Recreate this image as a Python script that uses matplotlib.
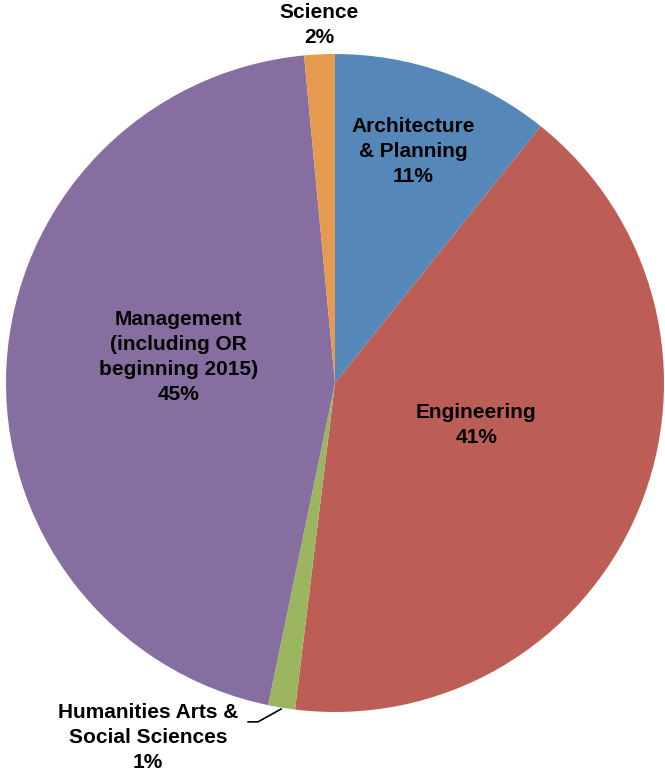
import matplotlib.pyplot as plt

categories = ['Architecture\n& Planning', 'Engineering', 'Humanities Arts &\nSocial Sciences',
              'Management\n(including OR\nbeginning 2015)', 'Science']
shares = [10.75, 41.19, 1.32, 45.24, 1.5]
colors = ['#5587B8', '#BC5E55', '#9BB65F', '#866EA0', '#E59A4F']

# label centres in data units (pie radius = 1)
label_pos = [(0.237, 0.705), (0.429, -0.128), (-0.568, -1.076), (-0.475, 0.078), (-0.049, 1.088)]

fig = plt.figure(figsize=(6.65, 7.73), dpi=100)
W, H = 665, 773
cx, cy, r = 335, 383, 329
ax = fig.add_axes([(cx - r) / W, (H - cy - r) / H, 2 * r / W, 2 * r / H])

ax.pie(shares, colors=colors, startangle=90, counterclock=False, radius=1,
       wedgeprops=dict(linewidth=0))
ax.set_xlim(-1, 1)
ax.set_ylim(-1, 1)
ax.set_aspect('equal')
ax.axis('off')

for name, v, (x, y) in zip(categories, shares, label_pos):
    ax.text(x, y, f'{name}\n{int(v + 0.5)}%', ha='center', va='center',
            fontsize=15, fontweight='bold', family='Liberation Sans',
            linespacing=1.4, clip_on=False)

# leader line for the small Humanities slice
ax.plot([-0.264, -0.234, -0.164], [-1.030, -1.030, -0.991], color='black',
        linewidth=1.2, clip_on=False)

fig.savefig('out.png', dpi=100)
